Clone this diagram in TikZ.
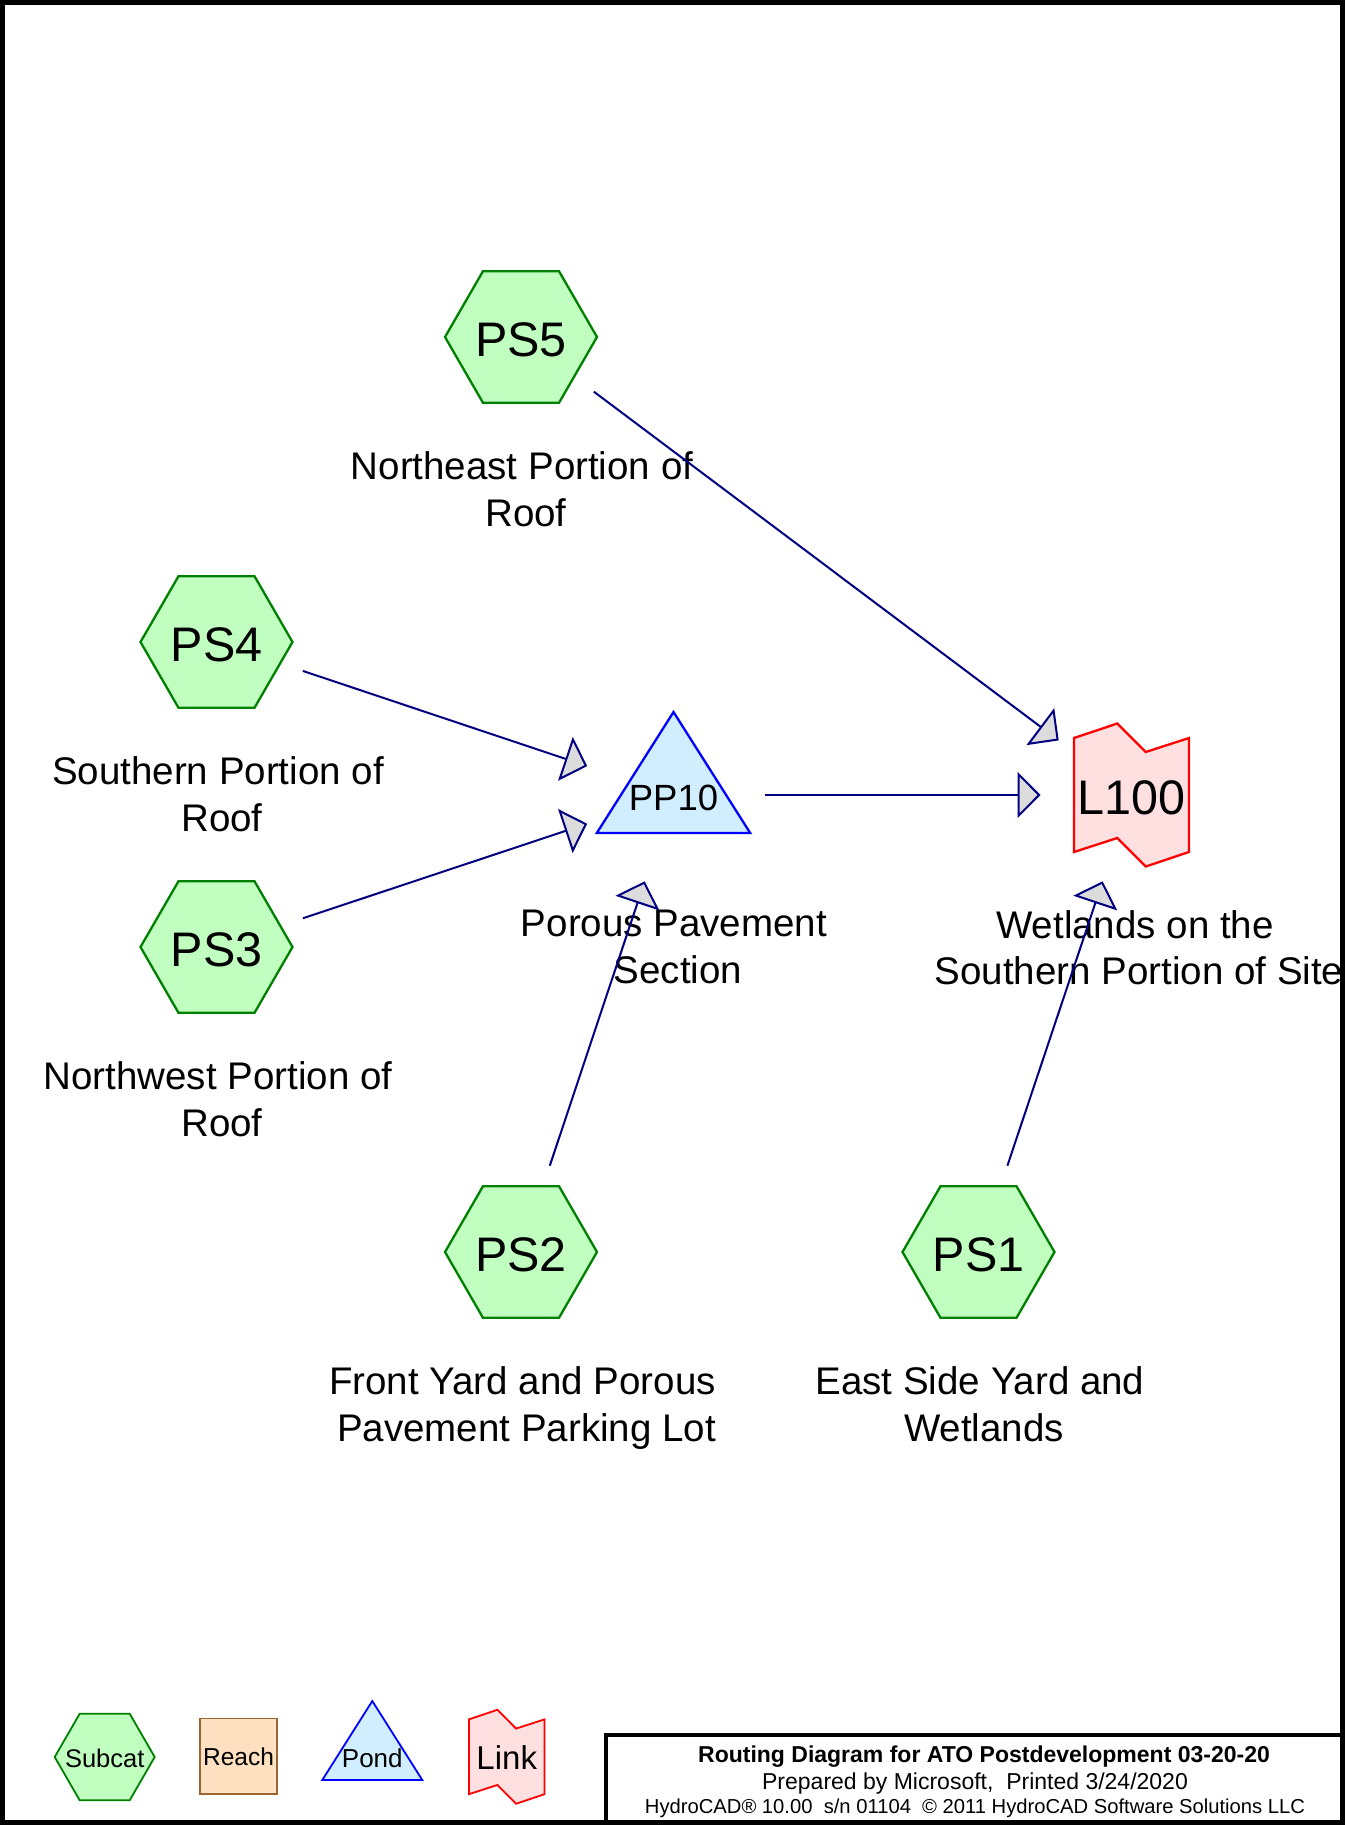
\documentclass[tikz,border=0pt]{standalone}
\usepackage{fontspec}
\setmainfont{Liberation Sans}
\usetikzlibrary{shapes.geometric,arrows.meta}
\definecolor{subfill}{RGB}{192,255,192}
\definecolor{subdraw}{RGB}{0,128,0}
\definecolor{pondfill}{RGB}{208,238,255}
\definecolor{ponddraw}{RGB}{0,0,255}
\definecolor{linkfill}{RGB}{255,224,224}
\definecolor{linkdraw}{RGB}{255,0,0}
\definecolor{reachfill}{RGB}{255,224,192}
\definecolor{reachdraw}{RGB}{153,102,51}
\definecolor{flowline}{RGB}{0,0,128}
\definecolor{tipfill}{RGB}{220,220,220}

\begin{document}
\begin{tikzpicture}[x=1pt,y=-1pt,
  subcat/.style={regular polygon, regular polygon sides=6, minimum size=152pt,
    inner sep=0pt, draw=subdraw, fill=subfill, line width=2.3pt},
  nodetext/.style={inner sep=0pt, font=\fontsize{48.5}{58}\selectfont},
  pondshape/.style={draw=ponddraw, fill=pondfill, line width=2.3pt, line join=miter},
  linkshape/.style={draw=linkdraw, fill=linkfill, line width=2.3pt, line join=miter},
  flow/.style={draw=flowline, line width=2pt, line join=miter,
    shorten <=91pt, shorten >=91pt,
    -{Triangle[length=23pt,width=46pt,fill=tipfill,line join=miter]}},
  lbl/.style={anchor=north, inner sep=0pt, align=center,
    font=\fontsize{38.5}{46.5}\selectfont,
    execute at begin node={\rule{0pt}{30pt}}},
]
\useasboundingbox (0,0) rectangle (1345,1825);

% outer frame
\draw[line width=5pt] (2.5,2.5) rectangle (1342.5,1822.5);

% subcatchments
\node[subcat] (PS5) at (521,337) {};
\node[subcat] (PS4) at (216.5,642) {};
\node[subcat] (PS3) at (216.5,947) {};
\node[subcat] (PS2) at (521,1252) {};
\node[subcat] (PS1) at (978.5,1252) {};
\node[nodetext] (PS5t) at (521,340) {PS5};
\node[nodetext] (PS4t) at (216.5,645) {PS4};
\node[nodetext] (PS3t) at (216.5,950) {PS3};
\node[nodetext] (PS2t) at (521,1255) {PS2};
\node[nodetext] (PS1t) at (978.5,1255) {PS1};

% pond
\draw[pondshape, shift={(673.5,795)}] (0,-83) -- (76.7,38) -- (-76.7,38) -- cycle;
\node[inner sep=0pt] (PP10) at (673.5,795) {};
\node[inner sep=0pt, font=\fontsize{36.5}{44}\selectfont] (PP10t) at (673.5,797.5) {PP10};

% link
\draw[linkshape, shift={(1131.5,795)}]
  (-57.5,-57) -- (-14.2,-71.5) -- (14.2,-43) -- (57.5,-57)
  -- (57.5,57) -- (14.2,71.5) -- (-14.2,43) -- (-57.5,57) -- cycle;
\node[inner sep=0pt] (L100) at (1131.5,795) {};
\node[nodetext] (L100t) at (1131.5,798) {L100};

% descriptions
\node[lbl] (PS5d) at (526,451.5) {Northeast Portion of\hspace*{8pt}\\Roof};
\node[lbl] (PS4d) at (222,756.5) {Southern Portion of\hspace*{8pt}\\Roof};
\node[lbl] (PS3d) at (222,1061.5) {Northwest Portion of\hspace*{8pt}\\Roof};
\node[lbl] (PP10d) at (678,910) {Porous Pavement\hspace*{8pt}\\Section};
\node[lbl] (L100d) at (1139,910) {Wetlands on the\hspace*{8pt}\\Southern Portion of Site};
\node[lbl] (PS2d) at (526.5,1366.5) {Front Yard and Porous\hspace*{8pt}\\Pavement Parking Lot};
\node[lbl] (PS1d) at (984,1366.5) {East Side Yard and\hspace*{8pt}\\Wetlands};

% routing
\draw[flow] (PS5.center) -- (L100.center);
\draw[flow] (PS4.center) -- (PP10.center);
\draw[flow] (PS3.center) -- (PP10.center);
\draw[flow] (PS2.center) -- (PP10.center);
\draw[flow] (PP10.center) -- (L100.center);
\draw[flow] (PS1.center) -- (L100.center);

% legend
\node[subcat, minimum size=100pt, line width=1.8pt] (lgSub) at (104.7,1757) {};
\node[inner sep=0pt, font=\fontsize{25.5}{30}\selectfont] (lgSubt) at (104.7,1758) {Subcat};
\node[draw=reachdraw, fill=reachfill, line width=1.8pt, minimum width=77pt,
  minimum height=75.5pt, inner sep=0pt, font=\fontsize{24.5}{30}\selectfont]
  (lgReach) at (238.5,1756.3) {Reach};
\draw[pondshape, line width=1.8pt, shift={(372.3,1757)}] (0,-56) -- (50,23) -- (-50,23) -- cycle;
\node[inner sep=0pt, font=\fontsize{26}{30}\selectfont] (lgPond) at (372.3,1758) {Pond};
\draw[linkshape, line width=1.8pt, shift={(506.75,1756.75)}]
  (-37.8,-37.4) -- (-9.3,-47) -- (9.3,-28.2) -- (37.8,-37.4)
  -- (37.8,37.4) -- (9.3,47) -- (-9.3,28.2) -- (-37.8,37.4) -- cycle;
\node[inner sep=0pt, font=\fontsize{33}{38}\selectfont] (lgLink) at (506.75,1758) {Link};

% title block
\draw[line width=4pt] (606,1735) rectangle (1342.5,1822.5);
\node[anchor=north, inner sep=0pt, align=center, font=\fontsize{23}{24}\selectfont,
  execute at begin node={\rule{0pt}{18pt}}] (title) at (975,1746)
  {\hspace*{18pt}\textbf{Routing Diagram for ATO Postdevelopment 03-20-20}\\[3pt]
   Prepared by Microsoft,\ \ Printed 3/24/2020\\
   {\fontsize{20.2}{24}\selectfont HydroCAD® 10.00\ \ s/n 01104\ \ © 2011 HydroCAD Software Solutions LLC}};
\end{tikzpicture}
\end{document}
